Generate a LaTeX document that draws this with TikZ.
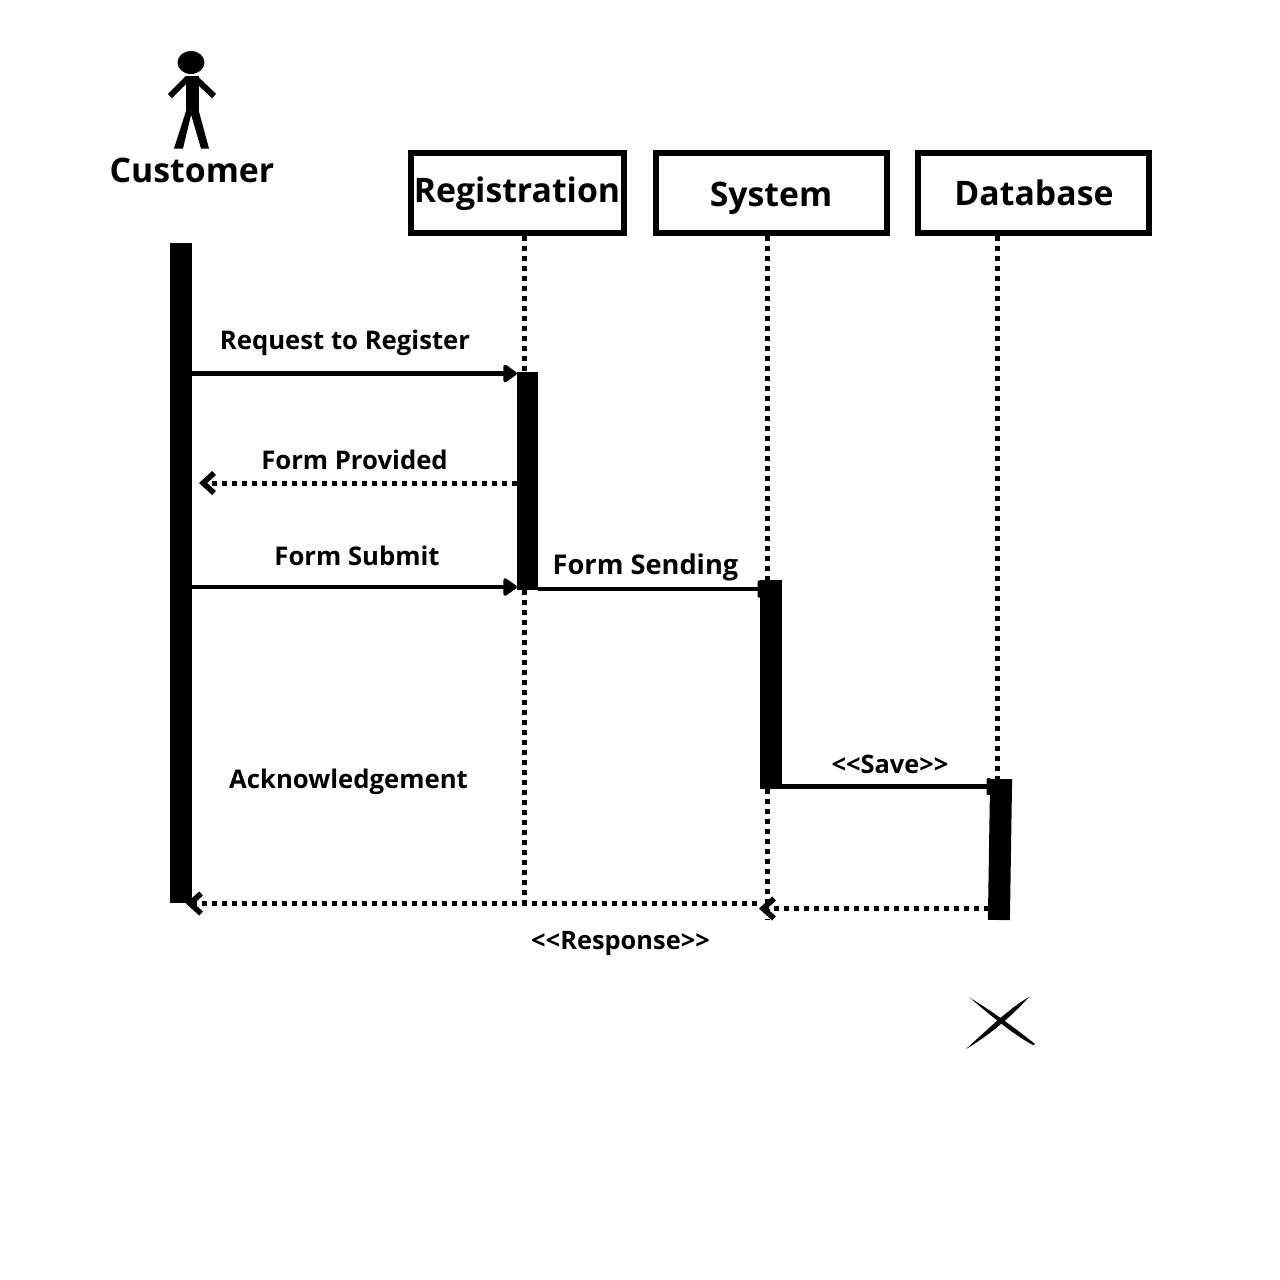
\documentclass[tikz,border=0pt]{standalone}
\usepackage{fontspec}
\setmainfont{Open Sans}
\usetikzlibrary{arrows.meta}
\tikzset{
  x=1pt,y=-1pt,
  objbox/.style={draw=black,line width=6pt,fill=white,inner sep=0pt,minimum height=80pt},
  actlabel/.style={inner sep=0pt,font=\bfseries\fontsize{33.8}{36}\selectfont},
  bar/.style={fill=black,inner sep=0pt,minimum width=22pt},
  lifeline/.style={line width=5pt,dash pattern=on 5pt off 5pt},
  msg/.style={line width=4.5pt,-{Triangle[length=15pt,width=20pt,round]}},
  ret/.style={line width=5pt,dash pattern=on 5pt off 5pt,-{Straight Barb[length=11pt,width=20pt,line width=5.5pt]}},
  lbl/.style={inner sep=0pt,font=\bfseries\fontsize{25.7}{30}\selectfont},
  lbls/.style={inner sep=0pt,font=\bfseries\fontsize{25.4}{30}\selectfont},
}
\begin{document}
\begin{tikzpicture}
\useasboundingbox (0,0) rectangle (1280,1280);
% object boxes
\node[objbox,minimum width=213pt] (reg) at (517,193) {};
\node[objbox,minimum width=231pt] (sys) at (771.5,193) {};
\node[objbox,minimum width=231pt] (db) at (1033.5,193) {};
\node[actlabel] (regt) at (517,193.5) {Registration};
\node[actlabel] (syst) at (771,198.5) {System};
\node[actlabel] (dbt) at (1034,193) {Database};
% actor
\fill (191,62.5) ellipse [x radius=13.5,y radius=11.5];
\fill (186,76) -- (199,76) -- (199,110) -- (186,110) -- cycle;
\draw[line width=6pt] (188,78) -- (170,96);
\draw[line width=6pt] (195,78) -- (214,96);
\fill (187,108) -- (192,111) -- (183,148.5) -- (174,148.5) -- cycle;
\fill (190,111) -- (198,108) -- (209,148.5) -- (201,148.5) -- cycle;
\node[actlabel] (cust) at (192,170.5) {Customer};
% activation bars
\node[bar,minimum height=660pt] (barc) at (181,573) {};
\node[bar,minimum width=21pt,minimum height=218pt] (barr) at (527.5,481) {};
\node[bar,minimum height=209pt] (bars) at (771,684.5) {};
\node[bar,minimum height=141pt,rotate=-0.9] (bard) at (1000,849.5) {};
% free ends and message levels
\coordinate (regl) at (524.5,0);
\coordinate (sysl) at (767.5,0);
\coordinate (dbl) at (997.5,0);
\coordinate (sysend) at (767.5,920);
\coordinate (regend) at (524.5,903);
\coordinate (y1) at (0,373.5);
\coordinate (y2) at (0,483);
\coordinate (y3) at (0,587);
\coordinate (y4) at (0,589);
\coordinate (y5) at (0,786.5);
\coordinate (y6) at (0,908.5);
\coordinate (y7) at (0,903.5);
\coordinate (tip2) at (199,483);
\coordinate (tip6) at (759,908.5);
\coordinate (tip7) at (186,903.5);
\coordinate (from6) at (989,908.5);
\coordinate (from7) at (757,903.5);
% lifelines
\draw[lifeline] (regl |- reg.south) -- (regl |- barr.north);
\draw[lifeline] (regl |- barr.south) -- (regend);
\draw[lifeline] (sysl |- sys.south) -- (sysl |- bars.north);
\draw[lifeline] (sysl |- bars.south) -- (sysend);
\draw[lifeline] (dbl |- db.south) -- (dbl |- bard.north);
% messages
\draw[msg] (barc.east |- y1) -- (barr.west |- y1);
\draw[ret] (barr.west |- y2) -- (tip2);
\draw[msg] (barc.east |- y3) -- (barr.west |- y3);
\draw[msg] (barr.east |- y4) -- (bars.center |- y4);
\draw[msg] (bars.east |- y5) -- (bard.center |- y5);
\draw[ret] (from6) -- (tip6);
\draw[ret] (from7) -- (tip7);
% labels
\node[lbl] (m1) at (345,343) {Request to Register};
\node[lbl] (m2) at (354.5,460) {Form Provided};
\node[lbl] (m3) at (357,556) {Form Submit};
\node[lbl,font=\bfseries\fontsize{27.2}{30}\selectfont] (m4) at (645.5,567) {Form Sending};
\node[lbl] (m5) at (348.5,781.5) {Acknowledgement};
\node[lbls] (m6) at (890,764) {<{}<Save>{}>};
\node[lbls] (m7) at (620.5,943.5) {<{}<Response>{}>};
% destruction mark
\fill (970,998) .. controls (992,1011) and (1015,1028) .. (1035,1044) .. controls (1035,1046) and (1033,1045) .. (1031,1044) .. controls (1010,1032) and (989,1014) .. (970,998) -- cycle;
\fill (1029,997) .. controls (1008,1009) and (985,1032) .. (966,1049) .. controls (988,1036) and (1010,1018) .. (1029,997) -- cycle;
\end{tikzpicture}
\end{document}
